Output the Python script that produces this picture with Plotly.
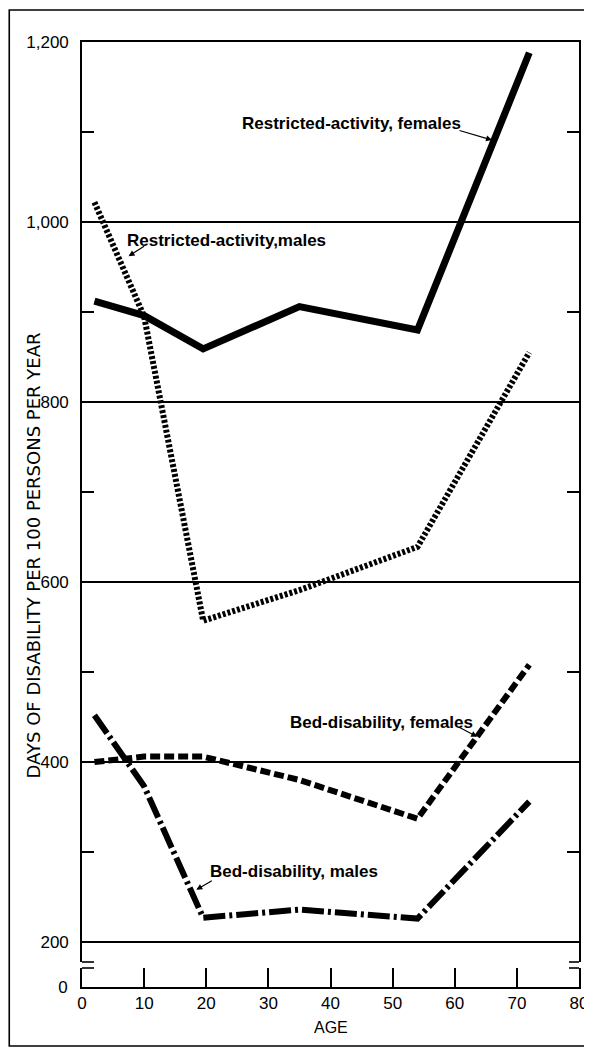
import plotly.graph_objects as go

# ---- data ----
ages = [2, 10, 19.5, 35, 54, 72]
restricted_females = [912, 896, 859, 906, 880, 1188]
restricted_males = [1022, 895, 557, 591, 639, 855]
bed_females = [400, 406, 406, 380, 337, 508]
bed_males = [452, 373, 227, 236, 226, 356]

x_ticks = [0, 10, 20, 30, 40, 50, 60, 70, 80]
y_major = [200, 400, 600, 800, 1000, 1200]
y_major_labels = ["200", "400", "600", "800", "1,000", "1,200"]
y_minor = [300, 500, 700, 900, 1100]

# ---- layout geometry ----
# The page body has an 8px default margin, so the figure is drawn 8px in
# from the window's top-left; all reference pixel positions are shifted.
OFF = 8
WIN_W, WIN_H = 592, 1050
W, H = WIN_W - OFF, WIN_H - OFF
plot_left, plot_right = 81.6, 579      # reference pixels
plot_top, plot_bottom = 42, 987
ML = plot_left - OFF
MR = W - (plot_right - OFF)
MT = plot_top - OFF
MB = H - (plot_bottom - OFF)
PW = W - ML - MR
PH = H - MT - MB
main_bottom_px = 962
bot_top_px = 968
d_main = (plot_bottom - main_bottom_px) / PH
d_bot = (plot_bottom - bot_top_px) / PH
px_per_unit = 0.9
main_range = [1200 - (main_bottom_px - plot_top) / px_per_unit, 1200]
bot_range = [0, (plot_bottom - bot_top_px) / px_per_unit]

def paper_x(px):
    return (px - plot_left) / PW

def paper_y(py):
    return (plot_bottom - py) / PH

FONT = "Liberation Sans"
LW = 1.6

fig = go.Figure()

styles = [
    (restricted_females, "solid", 7),
    (restricted_males, "3px,2px", 6),
    (bed_females, "10px,4px", 6),
    (bed_males, "22px,4px,3px,4px", 6),
]
for vals, dash, w in styles:
    fig.add_trace(go.Scatter(x=ages, y=vals, mode="lines",
                             line=dict(color="black", width=w, dash=dash),
                             xaxis="x", yaxis="y", showlegend=False,
                             hoverinfo="skip"))

# invisible trace to activate the lower panel
fig.add_trace(go.Scatter(x=[0], y=[0], mode="markers", marker=dict(opacity=0),
                         xaxis="x2", yaxis="y2", showlegend=False, hoverinfo="skip"))

tick_font = dict(family=FONT, size=17, color="black")

fig.update_layout(
    template="none",
    width=W, height=H,
    margin=dict(l=ML, r=MR, t=MT, b=MB, autoexpand=False),
    paper_bgcolor="white", plot_bgcolor="white",
    font=dict(family=FONT, color="black", size=17),
    xaxis=dict(domain=[0, 1], anchor="y", range=[0, 80], side="top",
               automargin=False,
               showline=True, linecolor="black", linewidth=LW,
               showticklabels=False, ticks="", showgrid=False, zeroline=False),
    xaxis2=dict(domain=[0, 1], anchor="y2", range=[0, 80], matches="x",
                automargin=False,
                showline=True, linecolor="black", linewidth=LW,
                tickvals=x_ticks, ticktext=[str(v) for v in x_ticks],
                ticks="inside", ticklen=19, tickwidth=LW, tickcolor="black",
                tickfont=tick_font,
                showgrid=False, zeroline=False),
    yaxis=dict(domain=[d_main, 1], anchor="x", range=main_range,
               automargin=False,
               showline=True, mirror="ticks", linecolor="black", linewidth=LW,
               tickvals=y_major, ticktext=y_major_labels,
               ticks="inside", ticklen=1, tickwidth=LW, tickcolor="black",
               ticklabelstandoff=8,
               tickfont=tick_font,
               showgrid=True, gridcolor="black", gridwidth=LW, zeroline=False,
               minor=dict(tickvals=y_minor, ticks="inside", ticklen=12,
                          tickwidth=LW, tickcolor="black", showgrid=False)),
    yaxis2=dict(domain=[0, d_bot], anchor="x2", range=bot_range,
                automargin=False,
                showline=True, mirror=True, linecolor="black", linewidth=LW,
                tickvals=[0], ticktext=["0"], ticks="",
                ticklabelstandoff=9,
                tickfont=tick_font,
                showgrid=False, zeroline=False),
)

shapes = []
# axis-break stubs
for py in (main_bottom_px, bot_top_px):
    shapes.append(dict(type="line", xref="paper", yref="paper",
                       x0=0, x1=paper_x(plot_left + 12), y0=paper_y(py), y1=paper_y(py),
                       line=dict(color="black", width=LW)))
    shapes.append(dict(type="line", xref="paper", yref="paper",
                       x0=paper_x(plot_right - 10), x1=1, y0=paper_y(py), y1=paper_y(py),
                       line=dict(color="black", width=LW)))
# outer border of the figure
shapes.append(dict(type="rect", xref="paper", yref="paper",
                   x0=paper_x(OFF + 0.8), x1=paper_x(589), y0=paper_y(1046), y1=paper_y(10),
                   line=dict(color="black", width=LW)))
fig.update_layout(shapes=shapes)

ann = []
label_font = dict(family=FONT, size=17, color="black", weight="bold")
labels = [
    ("Restricted-activity, females", 43.4, 1109),
    ("Restricted-activity,males", 23.2, 980),
    ("Bed-disability, females", 48.2, 444),
    ("Bed-disability, males", 34.1, 278),
]
for text, lx, ly in labels:
    ann.append(dict(text=text, x=lx, y=ly, xref="x", yref="y", showarrow=False,
                    font=label_font, xanchor="center", yanchor="middle"))
arrows = [
    (66.0, 1091, -34, -10),
    (7.5, 962, 17, -11),
    (63.6, 428, -19, -10),
    (18.4, 258, 17, -10),
]
for tx, ty, axp, ayp in arrows:
    ann.append(dict(text="", x=tx, y=ty, xref="x", yref="y", showarrow=True,
                    ax=axp, ay=ayp, arrowhead=2, arrowsize=1, arrowwidth=1.2,
                    arrowcolor="black"))
# axis titles
ann.append(dict(text="DAYS OF DISABILITY PER 100 PERSONS PER YEAR",
                x=paper_x(33), y=paper_y(555), xref="paper", yref="paper",
                showarrow=False, textangle=-90,
                font=dict(family="DejaVu Sans", size=18, color="black"),
                xanchor="center", yanchor="middle"))
ann.append(dict(text="AGE", x=0.5, y=paper_y(1027), xref="paper", yref="paper",
                showarrow=False, font=dict(family=FONT, size=16, color="black"),
                xanchor="center", yanchor="middle"))
fig.update_layout(annotations=ann)

fig.write_html("out.html")
